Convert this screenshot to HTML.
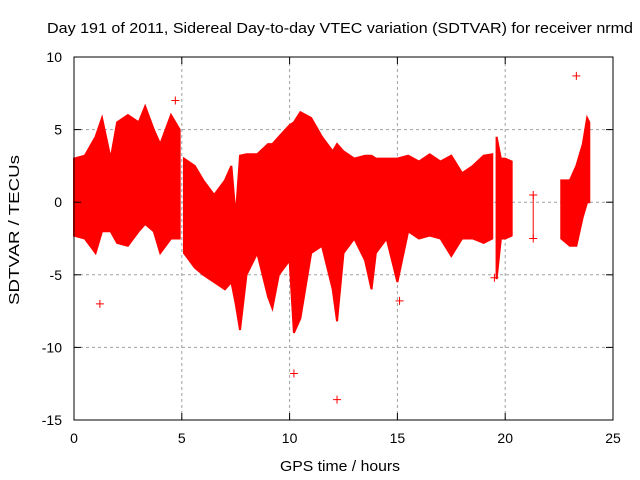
<!DOCTYPE html>
<html><head><meta charset="utf-8"><style>
body{margin:0;background:#fff}
svg{display:block;font-family:"Liberation Sans",sans-serif}
</style></head><body>
<svg id="chart" width="640" height="480">
<rect width="640" height="480" fill="#fff"/>
<text x="47" y="33" font-size="15" textLength="586" lengthAdjust="spacingAndGlyphs">Day 191 of 2011, Sidereal Day-to-day VTEC variation (SDTVAR) for receiver nrmd</text>
<text x="280" y="471" font-size="15" textLength="120" lengthAdjust="spacingAndGlyphs">GPS time / hours</text>
<text transform="translate(19,305) rotate(-90)" font-size="15" textLength="150" lengthAdjust="spacingAndGlyphs">SDTVAR / TECUs</text>
<g id="grid"></g><g id="data"></g><g id="axes"></g>
</svg>
<script>
const xTicks=[0,5,10,15,20,25];
const yTicks=[-15,-10,-5,0,5,10];
// envelope segments: hours, upper, lower (null = gap)
const hours=[0,0.5,1,1.3,1.7,2,2.5,3,3.3,3.7,4,4.5,4.9,null,5.1,5.6,6,6.5,7,7.3,7.5,7.7,8,8.5,9,9.2,9.5,10,10.2,10.5,11,11.5,12,12.2,12.5,13,13.5,13.8,14,14.5,15,15.5,16,16.5,17,17.5,18,18.5,19,19.4,null,19.6,19.8,20,20.3,null,22.6,23,23.3,23.6,23.8,23.9];
const upper=[3,3.2,4.5,5.8,3,5.5,6,5.5,6.6,5,4,6,5,null,3,2.5,1.5,0.5,1.5,2.5,-1,3.2,3.3,3.3,4,4,4.5,5.3,5.5,6.2,5.8,4.5,3.5,4,3.5,3,3.2,3.2,3,3,3,3.2,2.8,3.3,2.8,3.2,2,2.5,3.2,3.3,null,4.5,3,3,2.8,null,1.5,1.5,2.5,4,5.8,5.5];
const lower=[-2.3,-2.5,-3.5,-2,-2,-2.8,-3,-2,-1.5,-2,-3.5,-2.5,-2.5,null,-3.5,-4.5,-5,-5.5,-6,-5.5,-7,-8.8,-5,-3.5,-6.5,-7.3,-5,-4,-9,-8,-3.5,-3,-6,-8.2,-3.5,-2.5,-4,-6,-3.5,-2.5,-5.5,-2,-2.5,-2.3,-2.5,-3.7,-2.5,-2.5,-2.8,-2.5,null,-5.3,-2.5,-2.5,-2.3,null,-2.5,-3,-3,-1,0,0];
const outX=[1.2,12.2,23.3,21.3,21.3,4.7,10.2,15.1,19.5];
const outY=[-7,-13.6,8.7,0.5,-2.5,7,-11.8,-6.8,-5.2];
const ns="http://www.w3.org/2000/svg";
const X0=74,X1=613,Y0=420,Y1=57;
const sx=v=>X0+(v-0)/25*(X1-X0);
const sy=v=>Y0-(v+15)/25*(Y0-Y1);
function mk(t,a,p){const e=document.createElementNS(ns,t);for(const k in a)e.setAttribute(k,a[k]);p.appendChild(e);return e;}
const grid=document.getElementById('grid'),axes=document.getElementById('axes'),data=document.getElementById('data');
xTicks.forEach(t=>{
 if(t>0&&t<25){const l=mk('line',{x1:sx(t),x2:sx(t),y1:Y1,y2:Y0,stroke:'#a0a0a0','stroke-dasharray':'3,3'},grid);
 
 }
 mk('line',{x1:sx(t),x2:sx(t),y1:Y0,y2:Y0-7,stroke:'#000'},axes);
 mk('line',{x1:sx(t),x2:sx(t),y1:Y1,y2:Y1+7,stroke:'#000'},axes);
 const tx=mk('text',{x:sx(t),y:Y0+23,'font-size':14,'text-anchor':'middle'},axes);tx.textContent=t;
 
 
});
yTicks.forEach(t=>{
 if(t>-15&&t<10){const l=mk('line',{x1:X0,x2:X1,y1:sy(t),y2:sy(t),stroke:'#a0a0a0','stroke-dasharray':'3,3'},grid);
 
 }
 mk('line',{x1:X0,x2:X0+7,y1:sy(t),y2:sy(t),stroke:'#000'},axes);
 mk('line',{x1:X1,x2:X1-7,y1:sy(t),y2:sy(t),stroke:'#000'},axes);
 const tx=mk('text',{x:X0-12,y:sy(t)+5,'font-size':14,'text-anchor':'end'},axes);tx.textContent=t;
 
 
});
const fr=mk('rect',{x:X0,y:Y1,width:X1-X0,height:Y0-Y1,fill:'none',stroke:'#000'},axes);


let seg=[];
function flush(){
 if(seg.length<2){seg=[];return;}
 let pts=seg.map(i=>sx(hours[i])+','+sy(upper[i]));
 pts=pts.concat(seg.slice().reverse().map(i=>sx(hours[i])+','+sy(lower[i])));
 const p=mk('polygon',{points:pts.join(' '),fill:'#ff0000',stroke:'#ff0000','stroke-width':2},data);
 
 
 seg=[];
}
hours.forEach((h,i)=>{if(h===null)flush();else seg.push(i);});flush();
outX.forEach((h,i)=>{
 const g=mk('path',{d:`M${sx(h)-4},${sy(outY[i])}h8M${sx(h)},${sy(outY[i])-4}v8`,stroke:'#ff0000','stroke-width':1},data);
 
 
});
const eb=mk('line',{x1:sx(21.3),x2:sx(21.3),y1:sy(0.5),y2:sy(-2.5),stroke:'#ff0000'},data);


</script>
</body></html>
